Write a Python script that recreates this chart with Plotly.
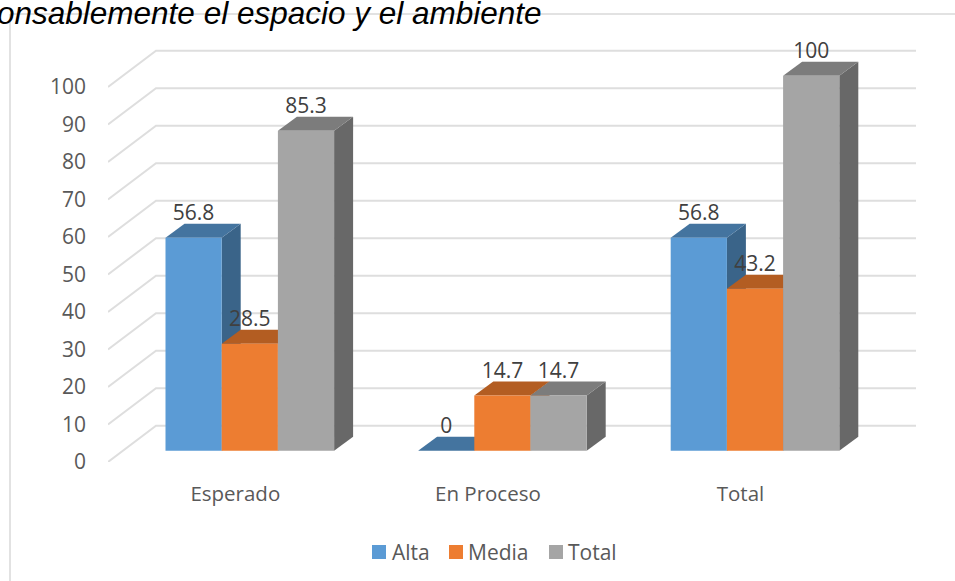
import plotly.graph_objects as go

categories = ["Esperado", "En Proceso", "Total"]
alta = [56.8, 0, 56.8]
media = [28.5, 14.7, 43.2]
total = [85.3, 14.7, 100]
y_ticks = [0, 10, 20, 30, 40, 50, 60, 70, 80, 90, 100]

series = [
    ("Alta", alta, "#5B9BD5", "#44749F", "#3A6489"),
    ("Media", media, "#ED7D31", "#B35D22", "#9C5020"),
    ("Total", total, "#A5A5A5", "#7C7C7C", "#686868"),
]

WIDTH, HEIGHT = 955, 581
PLOT_L, PLOT_R, PLOT_T, PLOT_B = 108, 916, 40, 462
PX_PER_CAT = 252.6
PX_PER_UNIT = 3.75

x_range = [(PLOT_L - 235.3) / PX_PER_CAT, (PLOT_R - 235.3) / PX_PER_CAT]
y_range = [0, (PLOT_B - PLOT_T) / PX_PER_UNIT]

# fake 3D: everything is offset in data units along the depth direction
wall_dx, wall_dy = 48 / PX_PER_CAT, 36.3 / PX_PER_UNIT
bar_dx, bar_dy = 14.5 / PX_PER_CAT, 11.3 / PX_PER_UNIT
depth_dx, depth_dy = 19 / PX_PER_CAT, 14 / PX_PER_UNIT
bar_w = 56.2 / PX_PER_CAT
label_gap = 23 / PX_PER_UNIT

# swatch left edge and text left edge of each legend entry, in page pixels
legend_swatch_px = [372, 449, 549]
legend_text_px = [392, 468, 568]


def paper_x(px):
    return (px - PLOT_L) / (PLOT_R - PLOT_L)


def paper_y(px):
    return (PLOT_B - px) / (PLOT_B - PLOT_T)


def polygon(xs, ys, color):
    return go.Scatter(
        x=xs, y=ys, mode="lines", fill="toself", fillcolor=color,
        line={"width": 0, "color": color}, showlegend=False, hoverinfo="skip",
    )


fig = go.Figure()

# walls
grid_x, grid_y = [], []
for v in y_ticks:
    grid_x += [x_range[0], x_range[0] + wall_dx, x_range[1], None]
    grid_y += [v, v + wall_dy, v + wall_dy, None]
fig.add_trace(go.Scatter(
    x=grid_x, y=grid_y, mode="lines", line={"color": "#DEDEDE", "width": 2},
    showlegend=False, hoverinfo="skip",
))

# tops and sides, painted left to right
for s, (name, values, front, top, side) in enumerate(series):
    for c, v in enumerate(values):
        left = c + bar_dx + (s - 1.5) * bar_w
        right = left + bar_w
        y0 = bar_dy
        y1 = bar_dy + v
        fig.add_trace(polygon(
            [right, right + depth_dx, right + depth_dx, right, right],
            [y0, y0 + depth_dy, y1 + depth_dy, y1, y0],
            side,
        ))
        fig.add_trace(polygon(
            [left, right, right + depth_dx, left + depth_dx, left],
            [y1, y1, y1 + depth_dy, y1 + depth_dy, y1],
            top,
        ))

# front faces sit on an overlaid subplot so that they stay above the polygons
for s, (name, values, front, top, side) in enumerate(series):
    xs = [c + bar_dx + (s - 1) * bar_w for c in range(len(categories))]
    fig.add_trace(go.Bar(
        x=xs, y=values, base=bar_dy, width=bar_w, name=name,
        marker={"color": front, "line": {"width": 0}},
        showlegend=False, xaxis="x2", yaxis="y2",
    ))

for s, (name, values, front, top, side) in enumerate(series):
    fig.add_trace(go.Scatter(
        x=[c + bar_dx + (s - 1) * bar_w for c in range(len(categories))],
        y=[v + bar_dy + label_gap for v in values],
        text=[str(v) for v in values],
        mode="text", textposition="middle center",
        textfont={"family": "Open Sans", "size": 21, "color": "#404040"},
        showlegend=False, hoverinfo="skip", xaxis="x2", yaxis="y2",
    ))

# frame of the surrounding page, and the cut off heading above the chart
fig.add_shape(
    type="line", xref="paper", yref="paper",
    x0=paper_x(10), x1=paper_x(955), y0=paper_y(14), y1=paper_y(14),
    line={"color": "#D9D9D9", "width": 1.5}, layer="below",
)
fig.add_shape(
    type="line", xref="paper", yref="paper",
    x0=paper_x(10), x1=paper_x(10), y0=paper_y(14), y1=paper_y(581),
    line={"color": "#D9D9D9", "width": 1.5}, layer="below",
)
fig.add_annotation(
    text="<i>onsablemente el espacio y el ambiente</i>",
    xref="paper", yref="paper", x=paper_x(-5), y=paper_y(13),
    xanchor="left", yanchor="middle", showarrow=False,
    font={"family": "Liberation Sans", "size": 31.5, "color": "#000000"},
)

# legend
for (name, values, front, top, side), sw, tx in zip(series, legend_swatch_px, legend_text_px):
    fig.add_shape(
        type="rect", xref="paper", yref="paper",
        x0=paper_x(sw), x1=paper_x(sw + 14), y0=paper_y(545), y1=paper_y(559),
        fillcolor=front, line={"width": 0},
    )
    fig.add_annotation(
        text=name, xref="paper", yref="paper", x=paper_x(tx), y=paper_y(552),
        xanchor="left", yanchor="middle", showarrow=False, borderpad=0, borderwidth=0,
        font={"family": "Open Sans", "size": 21, "color": "#595959"},
    )

fig.update_layout(
    width=WIDTH,
    height=HEIGHT,
    margin={"l": PLOT_L, "r": WIDTH - PLOT_R, "t": PLOT_T, "b": HEIGHT - PLOT_B, "pad": 0},
    paper_bgcolor="white",
    plot_bgcolor="rgba(0,0,0,0)",
    barmode="overlay",
    showlegend=False,
    font={"family": "Open Sans", "color": "#595959"},
    xaxis={
        "range": x_range, "tickvals": [0, 1, 2], "ticktext": categories,
        "showgrid": False, "zeroline": False, "showline": False, "ticks": "",
        "ticklabelstandoff": 17, "tickfont": {"size": 20.5, "color": "#595959"},
    },
    yaxis={
        "range": y_range, "tickvals": y_ticks,
        "showgrid": False, "zeroline": False, "showline": False, "ticks": "",
        "ticklabelstandoff": 21, "tickfont": {"size": 21, "color": "#595959"},
    },
    xaxis2={"range": x_range, "overlaying": "x", "visible": False},
    yaxis2={"range": y_range, "overlaying": "y", "visible": False},
)

# the default page has an 8px body margin
fig.write_html(
    "out.html",
    config={"displayModeBar": False},
    post_script="document.body.style.margin = '0';",
)
